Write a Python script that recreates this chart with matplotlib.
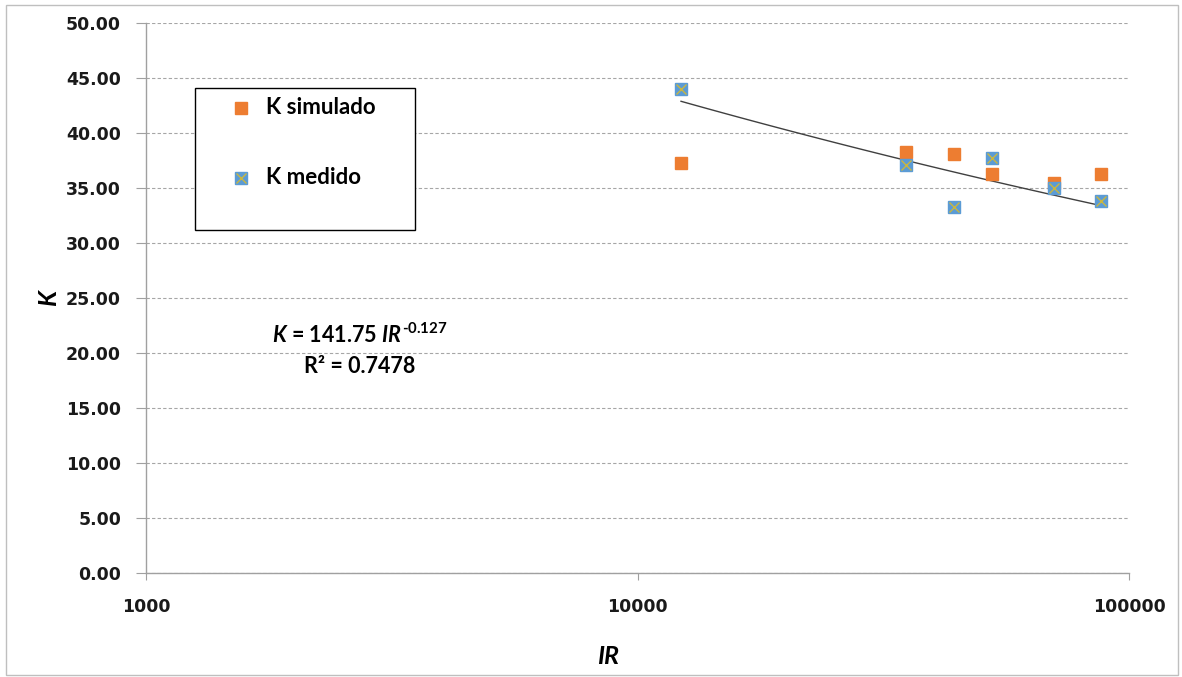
import numpy as np
import matplotlib
matplotlib.use("Agg")
import matplotlib.pyplot as plt
from matplotlib.lines import Line2D
from matplotlib.patches import Rectangle
from matplotlib.ticker import FixedLocator, FuncFormatter, NullLocator

# data
ir = [12262, 35180, 44060, 52640, 70370, 87700]
k_simulado = [37.3, 38.3, 38.1, 36.3, 35.5, 36.3]
k_medido = [44.0, 37.1, 33.3, 37.7, 35.0, 33.8]

# trendline coefficients as printed on the chart
coef_a = 141.75
coef_b = -0.127
r2 = 0.7478

plt.rcParams['mathtext.fontset'] = 'custom'
plt.rcParams['mathtext.rm'] = 'Lato:bold'
plt.rcParams['mathtext.it'] = 'Lato:bold:italic'
plt.rcParams['mathtext.bf'] = 'Lato:bold'

orange = '#ED7D31'
blue = '#5B9BD5'
gold = '#C9B640'

W, H = 1182, 677
fig = plt.figure(figsize=(W / 100, H / 100), dpi=100)
ax = fig.add_axes([146 / W, 1 - 573 / H, (1129 - 146) / W, (573 - 23) / H])

# outer border of the chart area
fig.patches.append(Rectangle((6 / W, 2 / H), 1172 / W, 670 / H,
                             transform=fig.transFigure, fill=False,
                             edgecolor='#BFBFBF', linewidth=1))

ax.set_xscale('log')
ax.set_xlim(1000, 100000)
ax.set_ylim(0, 50)

# trend line
xs = np.logspace(np.log10(min(ir)), np.log10(max(ir)), 50)
ax.plot(xs, coef_a * xs ** coef_b, color='#404040', linewidth=1, zorder=2)

ax.plot(ir, k_simulado, 's', color=orange, markersize=8.5, zorder=3,
        markeredgecolor=orange)
ax.plot(ir, k_medido, 's', color=blue, markersize=8.5, zorder=4,
        markeredgecolor=blue)
ax.plot(ir, k_medido, 'x', color=gold, markersize=7, markeredgewidth=1, zorder=5)

# axes styling
ax.set_yticks(np.arange(0, 50.01, 5))
ax.yaxis.set_major_formatter(FuncFormatter(lambda v, p: '%.2f' % v))
ax.xaxis.set_major_locator(FixedLocator([1000, 10000, 100000]))
ax.xaxis.set_minor_locator(NullLocator())
ax.xaxis.set_major_formatter(FuncFormatter(lambda v, p: '%d' % v))
for lab in ax.get_xticklabels() + ax.get_yticklabels():
    lab.set_fontfamily('DejaVu Sans')
    lab.set_fontweight('bold')
    lab.set_fontsize(12.5)
    lab.set_color('#1A1A1A')
ax.tick_params(axis='y', length=7, width=0.8, color='#A0A0A0', pad=11)
ax.tick_params(axis='x', length=5, width=0.8, color='#A0A0A0', pad=13)

ax.grid(axis='y', linestyle=(0, (3, 2)), color='#A6A6A6', linewidth=0.8)
ax.set_axisbelow(True)
for s in ['top', 'right']:
    ax.spines[s].set_visible(False)
for s in ['left', 'bottom']:
    ax.spines[s].set_color('#A0A0A0')
    ax.spines[s].set_linewidth(1)

fig.text(49 / W, 1 - 298 / H, 'K', fontfamily='Lato', fontweight='bold',
         fontstyle='italic', fontsize=18, rotation=90, ha='center', va='center')
fig.text(608 / W, 1 - 657 / H, 'IR', fontfamily='Lato', fontweight='bold',
         fontstyle='italic', fontsize=18, ha='center', va='center')

# equation
fig.text(360 / W, 1 - 335 / H,
         r'$K$ = %.2f $IR^{\text{%.3f}}$' % (coef_a, coef_b),
         fontfamily='Lato', fontweight='bold', fontsize=15.5, ha='center', va='center')
fig.text(360 / W, 1 - 367 / H, 'R² = %.4f' % r2,
         fontfamily='Lato', fontweight='bold', fontsize=15.5, ha='center', va='center')

# legend box drawn by hand to match its size
fig.patches.append(Rectangle((195 / W, 1 - 230 / H), 220 / W, 142 / H,
                             transform=fig.transFigure, fill=True, facecolor='white',
                             edgecolor='black', linewidth=1, zorder=6))
leg_y = [108, 178]
fig.add_artist(Line2D([241 / W], [1 - leg_y[0] / H], marker='s', linestyle='none',
                      color=orange, markersize=8.5, transform=fig.transFigure, zorder=7))
fig.add_artist(Line2D([241 / W], [1 - leg_y[1] / H], marker='s', linestyle='none',
                      color=blue, markersize=8.5, transform=fig.transFigure, zorder=7))
fig.add_artist(Line2D([241 / W], [1 - leg_y[1] / H], marker='x', linestyle='none',
                      color=gold, markersize=7, transform=fig.transFigure, zorder=8))
for yy, lab in zip(leg_y, ['K simulado', 'K medido']):
    fig.text(266 / W, 1 - yy / H, lab, fontfamily='Lato', fontweight='bold',
             fontsize=16, ha='left', va='center', zorder=8)

fig.savefig('out.png', dpi=100)
